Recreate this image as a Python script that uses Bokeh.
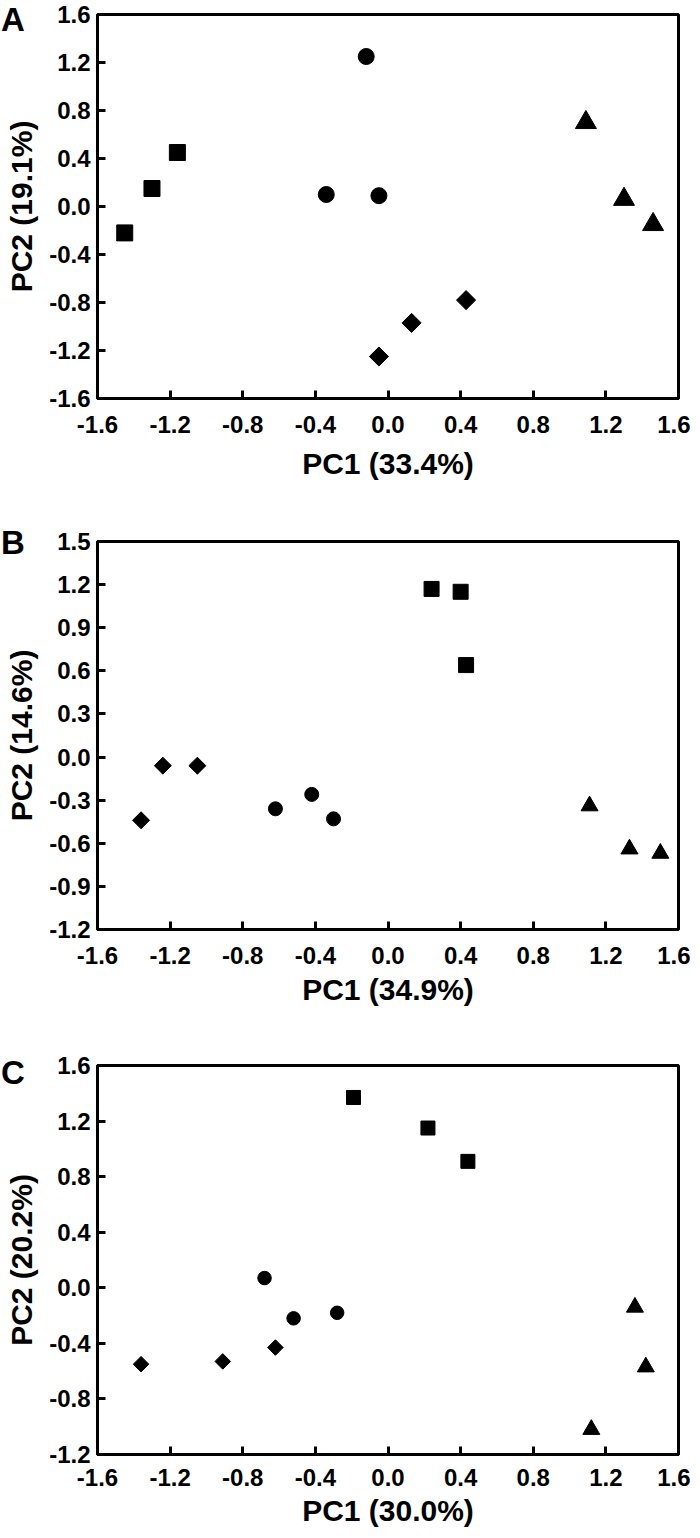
import math
from bokeh.plotting import figure
from bokeh.models import (Range1d, FixedTicker, NumeralTickFormatter, Div, GridBox,
                          InlineStyleSheet)
from bokeh.embed import file_html
from bokeh.resources import INLINE

# ---------------- data ----------------
x_ticks = [-1.6, -1.2, -0.8, -0.4, 0.0, 0.4, 0.8, 1.2, 1.6]
y_ticks_A = [-1.6, -1.2, -0.8, -0.4, 0.0, 0.4, 0.8, 1.2, 1.6]
y_ticks_B = [-1.2, -0.9, -0.6, -0.3, 0.0, 0.3, 0.6, 0.9, 1.2, 1.5]
y_ticks_C = [-1.2, -0.8, -0.4, 0.0, 0.4, 0.8, 1.2, 1.6]

panel_letters = ["A", "B", "C"]
x_titles = ["PC1 (33.4%)", "PC1 (34.9%)", "PC1 (30.0%)"]
y_titles = ["PC2 (19.1%)", "PC2 (14.6%)", "PC2 (20.2%)"]

# Panel A
sq_x_A = [-1.45, -1.30, -1.16]
sq_y_A = [-0.22, 0.15, 0.45]
ci_x_A = [-0.12, -0.34, -0.05]
ci_y_A = [1.25, 0.10, 0.09]
tr_x_A = [1.09, 1.30, 1.46]
tr_y_A = [0.70, 0.06, -0.15]
di_x_A = [0.43, 0.13, -0.05]
di_y_A = [-0.78, -0.97, -1.25]

# Panel B
sq_x_B = [0.24, 0.40, 0.43]
sq_y_B = [1.17, 1.15, 0.64]
ci_x_B = [-0.62, -0.42, -0.30]
ci_y_B = [-0.36, -0.26, -0.43]
tr_x_B = [1.11, 1.33, 1.50]
tr_y_B = [-0.34, -0.64, -0.67]
di_x_B = [-1.24, -1.05, -1.36]
di_y_B = [-0.06, -0.06, -0.44]

# Panel C
sq_x_C = [-0.19, 0.22, 0.44]
sq_y_C = [1.37, 1.15, 0.91]
ci_x_C = [-0.68, -0.52, -0.28]
ci_y_C = [0.07, -0.22, -0.18]
tr_x_C = [1.36, 1.42, 1.12]
tr_y_C = [-0.14, -0.57, -1.02]
di_x_C = [-1.36, -0.91, -0.62]
di_y_C = [-0.55, -0.53, -0.43]

FONT = "Liberation Sans"
FIG_W = 690
B_LEFT = 97
B_RIGHT = 12


def make_panel(xt, yt, yticks, series, sizes, height, b_top, b_bottom,
               lab_standoff, title_standoff):
    p = figure(width=FIG_W, height=height, output_backend="svg", toolbar_location=None,
               x_range=Range1d(-1.6, 1.6), y_range=Range1d(yticks[0], yticks[-1]),
               min_border_left=B_LEFT, min_border_right=B_RIGHT,
               min_border_top=b_top, min_border_bottom=b_bottom)
    p.grid.visible = False
    p.background_fill_color = "white"
    p.border_fill_color = "white"
    p.outline_line_color = "black"
    p.outline_line_width = 3

    for ax, ticks in ((p.xaxis[0], x_ticks), (p.yaxis[0], yticks)):
        ax.ticker = FixedTicker(ticks=ticks)
        ax.formatter = NumeralTickFormatter(format="0.0")
        ax.axis_line_width = 3
        ax.axis_line_color = "black"
        ax.major_tick_line_width = 3
        ax.major_tick_line_color = "black"
        ax.major_tick_in = 8
        ax.major_tick_out = 0
        ax.minor_tick_line_color = None
        ax.major_label_text_font = FONT
        ax.major_label_text_font_style = "bold"
        ax.major_label_text_font_size = "24px"
        ax.major_label_text_color = "black"
        ax.axis_label_text_font = FONT
        ax.axis_label_text_font_style = "bold"
        ax.axis_label_text_font_size = "30px"
        ax.axis_label_text_color = "black"
    p.xaxis.axis_label = xt
    p.yaxis.axis_label = yt
    p.xaxis.major_label_standoff = lab_standoff
    p.xaxis.axis_label_standoff = title_standoff
    p.yaxis.major_label_standoff = 7
    p.yaxis.axis_label_standoff = 8

    (sx, sy), (cx, cy), (tx, ty), (dx, dy) = series
    s_sq, s_ci, s_tr, s_di = sizes
    p.scatter(sx, sy, marker="square", size=s_sq, color="black")
    p.scatter(cx, cy, marker="circle", size=s_ci, color="black")
    p.scatter(tx, ty, marker="triangle", size=s_tr, color="black")
    p.scatter(dx, dy, marker="square", size=s_di, angle=math.pi / 4, color="black")
    return p


LETTER_CSS = InlineStyleSheet(css="""
:host, :host *, div {
  font-family: 'Liberation Sans', Arial, sans-serif !important;
  font-weight: bold !important;
  font-size: 33px !important;
  line-height: 1 !important;
  color: black !important;
}
""")


def make_letter(letter, top):
    return Div(text=letter, width=40, height=40, margin=(top, 0, 0, 1), align="start",
               stylesheets=[LETTER_CSS])


pA = make_panel(x_titles[0], y_titles[0], y_ticks_A,
                ((sq_x_A, sq_y_A), (ci_x_A, ci_y_A), (tr_x_A, tr_y_A), (di_x_A, di_y_A)),
                (16, 16, 21, 13.5), 510, 14, 112, 17, 11)
pB = make_panel(x_titles[1], y_titles[1], y_ticks_B,
                ((sq_x_B, sq_y_B), (ci_x_B, ci_y_B), (tr_x_B, tr_y_B), (di_x_B, di_y_B)),
                (15, 14, 17, 12), 526, 31, 107, 17, 6)
pC = make_panel(x_titles[2], y_titles[2], y_ticks_C,
                ((sq_x_C, sq_y_C), (ci_x_C, ci_y_C), (tr_x_C, tr_y_C), (di_x_C, di_y_C)),
                (14, 13.5, 17, 11), 500, 29, 82, 14, 5)

lA = make_letter(panel_letters[0], 3)
lB = make_letter(panel_letters[1], 16)
lC = make_letter(panel_letters[2], 20)

layout = GridBox(children=[(pA, 0, 0), (lA, 0, 0),
                           (pB, 1, 0), (lB, 1, 0),
                           (pC, 2, 0), (lC, 2, 0)], spacing=0)

open("out.html", "w").write(file_html(layout, INLINE))
